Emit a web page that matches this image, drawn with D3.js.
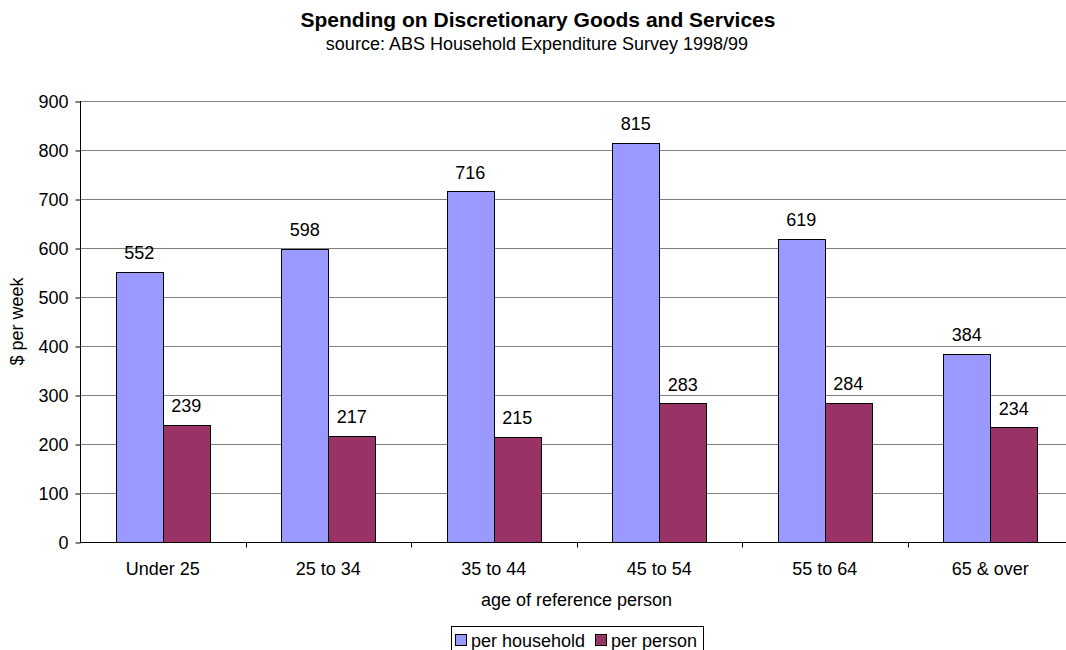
<!DOCTYPE html>
<html>
<head>
<meta charset="utf-8">
<script src="https://cdn.jsdelivr.net/npm/d3@7"></script>
<style>
  html, body { margin: 0; padding: 0; background: #fff; }
  svg { display: block; font-family: Arial, "Liberation Sans", sans-serif; }
</style>
</head>
<body>
<svg id="chart" width="1066" height="650"></svg>
<script>
// Weekly spending by age of household reference person
const categories = ["Under 25", "25 to 34", "35 to 44", "45 to 54", "55 to 64", "65 & over"];
const perHousehold = [552, 598, 716, 815, 619, 384];
const perPerson = [239, 217, 215, 283, 284, 234];
const seriesNames = ["per household", "per person"];
const yTicks = [0, 100, 200, 300, 400, 500, 600, 700, 800, 900];

const colors = ["#9999FF", "#993366"];
const series = [perHousehold, perPerson];
const FONT = "Arial, 'Liberation Sans', sans-serif";

const svg = d3.select("#chart");
const plotLeft = 80, plotRight = 1073, plotTop = 101, plotBottom = 542;

const x = d3.scaleBand().domain(categories).range([plotLeft, plotRight]).paddingInner(0).paddingOuter(0);
const inner = d3.scaleBand().domain(d3.range(series.length)).range([0, x.bandwidth()])
  .paddingInner(0).paddingOuter(36 / 47);
const y = d3.scaleLinear().domain([0, 900]).range([plotBottom, plotTop]);

// Titles
svg.append("text").attr("x", 538).attr("y", 27).attr("text-anchor", "middle")
  .attr("font-size", 21).attr("font-weight", "bold").attr("fill", "#000")
  .text("Spending on Discretionary Goods and Services");
svg.append("text").attr("x", 537).attr("y", 50).attr("text-anchor", "middle")
  .attr("font-size", 18).attr("fill", "#000")
  .text("source: ABS Household Expenditure Survey 1998/99");

// Gridlines
svg.append("g").selectAll("line").data(yTicks.filter(d => d > 0)).join("line")
  .attr("x1", plotLeft).attr("x2", plotRight)
  .attr("y1", d => Math.round(y(d)) + 0.5).attr("y2", d => Math.round(y(d)) + 0.5)
  .attr("stroke", "#808080").attr("stroke-width", 1);

// Bars and value labels
categories.forEach((c, i) => {
  series.forEach((s, k) => {
    const bx = x(c) + inner(k);
    const v = s[i];
    svg.append("rect")
      .attr("x", Math.round(bx) + 0.5).attr("y", Math.round(y(v)) + 0.5)
      .attr("width", Math.round(inner.bandwidth()))
      .attr("height", Math.round(y(0)) - Math.round(y(v)))
      .attr("fill", colors[k]).attr("stroke", "#000").attr("stroke-width", 1);
    svg.append("text")
      .attr("x", bx + inner.bandwidth() / 2).attr("y", y(v) - 12.5)
      .attr("text-anchor", "middle").attr("font-size", 18).attr("fill", "#000")
      .text(v);
  });
});

// Y axis
const yAxis = d3.axisLeft(y).tickValues(yTicks).tickSize(5).tickPadding(7).tickFormat(d3.format("d"));
const gy = svg.append("g").attr("transform", `translate(${plotLeft + 0.5},0.5)`).call(yAxis);
gy.select(".domain").attr("stroke", "#000").attr("d", `M0,${plotTop - 0.5}V${plotBottom}`);
gy.selectAll(".tick line").attr("stroke", "#000");
gy.selectAll(".tick text").attr("font-size", 18).attr("fill", "#000").attr("font-family", FONT);

// X axis
const xAxis = d3.axisBottom(x).tickSize(0).tickPadding(20);
const gx = svg.append("g").attr("transform", `translate(0,${Math.round(plotBottom) + 0.5})`).call(xAxis);
gx.select(".domain").attr("stroke", "#000").attr("d", `M${plotLeft},0H${plotRight}`);
gx.selectAll(".tick text").attr("font-size", 18).attr("fill", "#000").attr("font-family", FONT);
// category boundary ticks
gx.append("g").selectAll("line").data(categories.slice(1)).join("line")
  .attr("x1", d => Math.round(x(d)) + 0.5).attr("x2", d => Math.round(x(d)) + 0.5)
  .attr("y1", 0).attr("y2", 5).attr("stroke", "#000");

// Axis titles
svg.append("text").attr("x", 576.5).attr("y", 606).attr("text-anchor", "middle")
  .attr("font-size", 18).attr("fill", "#000").text("age of reference person");
svg.append("text").attr("transform", `translate(23,${(plotTop + plotBottom) / 2}) rotate(-90)`)
  .attr("text-anchor", "middle").attr("font-size", 18).attr("fill", "#000").text("$ per week");

// Legend
const lg = svg.append("g");
lg.append("rect").attr("x", 451.5).attr("y", 626.5).attr("width", 252).attr("height", 40)
  .attr("fill", "#fff").attr("stroke", "#000");
const legendX = [455, 595];
seriesNames.forEach((n, k) => {
  lg.append("rect").attr("x", legendX[k] + 0.5).attr("y", 634.5).attr("width", 11).attr("height", 11)
    .attr("fill", colors[k]).attr("stroke", "#000");
  lg.append("text").attr("x", legendX[k] + 16).attr("y", 647).attr("font-size", 18)
    .attr("fill", "#000").text(n);
});
</script>
</body>
</html>
